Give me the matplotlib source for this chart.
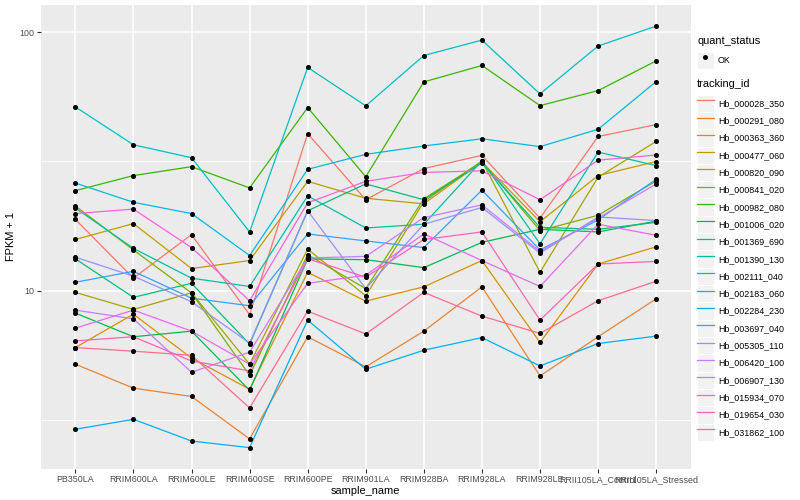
import numpy as np
import matplotlib.pyplot as plt
from matplotlib.legend_handler import HandlerLine2D
from matplotlib.lines import Line2D
from matplotlib.patches import Rectangle
from matplotlib.ticker import FixedLocator, NullFormatter

plt.rcParams["font.family"] = ["Liberation Sans", "DejaVu Sans"]

samples = ["PB350LA", "RRIM600LA", "RRIM600LE", "RRIM600SE", "RRIM600PE",
           "RRIM901LA", "RRIM928BA", "RRIM928LA", "RRIM928LE",
           "RRII105LA_Control", "RRII105LA_Stressed"]

tracking_ids = ["Hb_000028_350", "Hb_000291_080", "Hb_000363_360", "Hb_000477_060",
                "Hb_000820_090", "Hb_000841_020", "Hb_000982_080", "Hb_001006_020",
                "Hb_001369_690", "Hb_001390_130", "Hb_002111_040", "Hb_002183_060",
                "Hb_002284_230", "Hb_003697_040", "Hb_005305_110", "Hb_006420_100",
                "Hb_006907_130", "Hb_015934_070", "Hb_019654_030", "Hb_031862_100"]

# FPKM + 1 per sample
hb_000028_350 = [18.9, 11.2, 16.5, 8.09, 40.5, 22.5, 29.7, 33.4, 19.1, 39.5, 43.9]
hb_000291_080 = [5.21, 4.21, 3.91, 2.68, 6.65, 5.09, 6.99, 10.37, 4.69, 6.65, 9.32]
hb_000363_360 = [6.04, 8.13, 5.50, 4.17, 11.8, 9.13, 10.37, 13.1, 6.32, 12.7, 14.8]
hb_000477_060 = [15.8, 18.2, 12.2, 13.1, 26.5, 22.8, 21.7, 31.5, 18.5, 27.9, 31.6]
hb_000820_090 = [9.87, 8.48, 9.84, 5.21, 14.5, 9.57, 22.1, 31.8, 11.8, 27.5, 37.8]
hb_000841_020 = [21.3, 14.4, 9.82, 4.72, 13.8, 10.2, 22.7, 31.5, 17.1, 19.6, 26.6]
hb_000982_080 = [24.4, 27.9, 30.2, 25.0, 51.1, 27.6, 64.2, 74.3, 52.0, 59.4, 77.4]
hb_001006_020 = [8.21, 6.65, 6.99, 4.13, 13.3, 13.2, 12.3, 15.4, 17.3, 16.9, 18.6]
hb_001369_690 = [13.3, 9.44, 10.7, 6.23, 20.4, 25.9, 22.5, 31.2, 17.6, 17.3, 18.4]
hb_001390_130 = [20.9, 14.6, 11.2, 10.4, 23.3, 17.5, 18.1, 31.8, 15.2, 34.4, 30.5]
hb_002111_040 = [51.4, 36.7, 32.7, 16.9, 73.0, 51.9, 81.2, 93.1, 57.7, 88.3, 105.5]
hb_002183_060 = [26.1, 22.0, 19.9, 13.7, 29.5, 33.7, 36.3, 38.7, 36.1, 42.1, 64.4]
hb_002284_230 = [2.92, 3.19, 2.63, 2.48, 7.71, 4.98, 5.90, 6.60, 5.13, 6.26, 6.69]
hb_003697_040 = [10.8, 11.9, 9.38, 8.76, 16.6, 15.6, 14.7, 24.5, 14.4, 18.8, 27.0]
hb_005305_110 = [13.5, 11.4, 9.08, 6.28, 20.4, 10.2, 18.1, 21.0, 14.0, 19.3, 18.7]
hb_006420_100 = [8.43, 7.80, 4.85, 5.80, 13.4, 13.6, 19.2, 21.5, 14.2, 19.1, 25.9]
hb_006907_130 = [7.18, 8.43, 6.99, 5.21, 10.7, 11.5, 16.6, 13.1, 10.4, 18.1, 16.4]
hb_015934_070 = [19.9, 20.7, 14.7, 9.16, 21.9, 26.5, 28.7, 29.1, 22.5, 32.0, 33.5]
hb_019654_030 = [6.41, 6.65, 5.36, 4.91, 13.3, 11.3, 15.8, 16.9, 7.71, 12.7, 13.0]
hb_031862_100 = [6.04, 5.85, 5.64, 3.53, 8.35, 6.82, 9.87, 7.99, 6.85, 9.16, 10.9]

series = [hb_000028_350, hb_000291_080, hb_000363_360, hb_000477_060, hb_000820_090,
          hb_000841_020, hb_000982_080, hb_001006_020, hb_001369_690, hb_001390_130,
          hb_002111_040, hb_002183_060, hb_002284_230, hb_003697_040, hb_005305_110,
          hb_006420_100, hb_006907_130, hb_015934_070, hb_019654_030, hb_031862_100]

# ggplot default hue palette for 20 groups
colors = ["#F8766D", "#EA8331", "#D89000", "#C09B00", "#A3A500", "#7CAE00", "#39B600",
          "#00BB4E", "#00BF7D", "#00C1A3", "#00BFC4", "#00BAE0", "#00B0F6", "#35A2FF",
          "#9590FF", "#C77CFF", "#E76BF3", "#FA62DB", "#FF62BC", "#FF6C91"]


class KeyHandler(HandlerLine2D):
    # grey key box behind the legend line, like ggplot
    def create_artists(self, legend, orig_handle, xdescent, ydescent, width, height, fontsize, trans):
        bg = Rectangle((-xdescent, -ydescent), width, height, facecolor="#F2F2F2",
                       edgecolor="white", linewidth=0.8, transform=trans)
        arts = super().create_artists(legend, orig_handle, xdescent, ydescent, width, height, fontsize, trans)
        return [bg] + list(arts)


fig = plt.figure(figsize=(8, 5), dpi=100)
ax = fig.add_axes([40.5 / 800, 1 - 468.7 / 500, 650.5 / 800, 463.7 / 500])
ax.set_facecolor("#EBEBEB")

x = np.arange(len(samples))
for vals, col in zip(series, colors):
    ax.plot(x, vals, color=col, linewidth=0.9, zorder=2)
for vals in series:
    ax.plot(x, vals, linestyle="none", marker="o", markersize=2.6, color="black", zorder=3)

ax.set_yscale("log")
allv = np.log10(np.concatenate([np.array(s) for s in series]))
lo, hi = allv.min(), allv.max()
pad = 0.05 * (hi - lo)
ax.set_ylim(10 ** (lo - pad), 10 ** (hi + pad))
ax.set_xlim(-0.6, len(samples) - 0.4)

ax.yaxis.set_major_locator(FixedLocator([10, 100]))
ax.set_yticklabels(["10", "100"])
ax.yaxis.set_minor_locator(FixedLocator([10 ** 0.5, 10 ** 1.5]))
ax.yaxis.set_minor_formatter(NullFormatter())
ax.set_xticks(x)
ax.set_xticklabels(samples)

ax.grid(which="major", color="white", linewidth=1.1)
ax.grid(which="minor", axis="y", color="white", linewidth=0.55)
ax.set_axisbelow(True)
for sp in ax.spines.values():
    sp.set_visible(False)
ax.tick_params(which="major", length=3, width=0.8, color="#333333", labelsize=6.4,
               labelcolor="#4D4D4D", pad=1.5)
ax.tick_params(which="minor", length=0)

ax.set_xlabel("sample_name", fontsize=7.9, labelpad=1.5)
ax.set_ylabel("FPKM + 1", fontsize=7.9, labelpad=2)

# legends (handleheight chosen so each key is ~17 px tall)
status_handle = [Line2D([], [], linestyle="none", marker="o", markersize=2.6, color="black")]
leg1 = fig.legend(status_handle, ["OK"], title="quant_status", loc="upper left",
                  bbox_to_anchor=(697 / 800, 1 - 36 / 500), frameon=False, fontsize=6.4,
                  title_fontsize=7.9, borderpad=0, borderaxespad=0, handlelength=1.9,
                  handleheight=2.62, handletextpad=0.45, labelspacing=0,
                  handler_map={Line2D: KeyHandler()})
leg1._legend_box.align = "left"
leg1._legend_box.sep = 4

line_handles = [Line2D([], [], color=c, linewidth=0.9) for c in colors]
leg2 = fig.legend(line_handles, tracking_ids, title="tracking_id", loc="upper left",
                  bbox_to_anchor=(697 / 800, 1 - 79 / 500), frameon=False, fontsize=6.4,
                  title_fontsize=7.9, borderpad=0, borderaxespad=0, handlelength=1.9,
                  handleheight=2.62, handletextpad=0.45, labelspacing=0,
                  handler_map={Line2D: KeyHandler()})
leg2._legend_box.align = "left"
leg2._legend_box.sep = 4

fig.savefig("out.png", dpi=100)
